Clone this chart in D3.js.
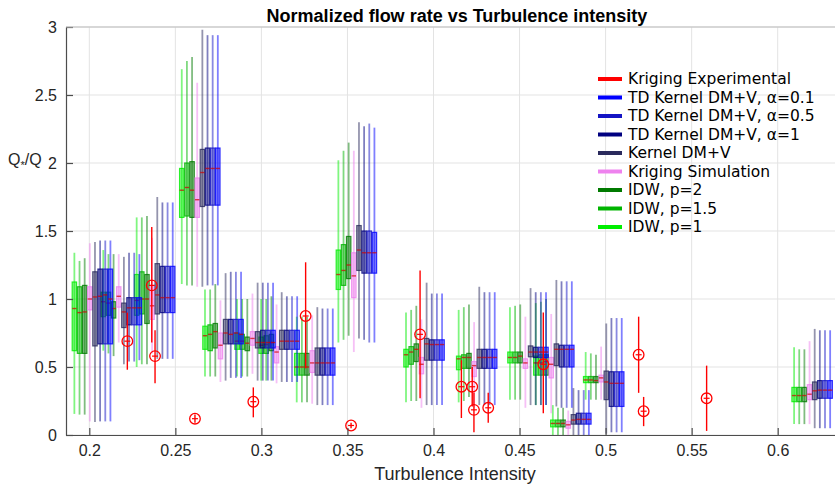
<!DOCTYPE html>
<html><head><meta charset="utf-8">
<script src="https://cdn.jsdelivr.net/npm/d3@7/dist/d3.min.js"></script>
<style>body{margin:0;background:#fff;} svg{display:block;}</style>
</head><body><svg id="c" width="835" height="489"></svg>
<script>
// ---------------- data ----------------
const xTicks = [0.2, 0.25, 0.3, 0.35, 0.4, 0.45, 0.5, 0.55, 0.6];
const yTicks = [0, 0.5, 1, 1.5, 2, 2.5, 3];
const xTickLabels = ["0.2", "0.25", "0.3", "0.35", "0.4", "0.45", "0.5", "0.55", "0.6"];
const yTickLabels = ["0", "0.5", "1", "1.5", "2", "2.5", "3"];

// turbulence intensity (centre of each group of boxes)
const clusterTI = [0.2018, 0.2186, 0.2380, 0.2642, 0.2777, 0.2963, 0.3103, 0.3310,
                   0.3552, 0.3945, 0.4251, 0.4549, 0.4699, 0.4798, 0.4989, 0.6200];

// each entry: [min, q1, median, q3, max]
const idwP1 = [
  [0.155,0.62,0.93,1.125,1.34],[0.62,0.87,0.98,1.05,1.36],[0.50,0.88,0.99,1.18,1.60],[1.11,1.60,1.80,1.96,2.69],
  [0.43,0.63,0.73,0.80,1.07],[0.43,0.63,0.69,0.75,1.00],[0.40,0.60,0.66,0.72,1.00],[0.24,0.44,0.50,0.60,0.87],
  [0.68,1.07,1.18,1.36,2.02],[0.24,0.50,0.59,0.63,0.90],[0.24,0.48,0.56,0.58,0.92],[0.26,0.53,0.57,0.61,0.94],
  [0.22,0.44,0.53,0.58,0.97],[0.00,0.06,0.085,0.11,0.22],[0.26,0.385,0.405,0.43,0.61],[0.08,0.245,0.29,0.35,0.645]];
const idwP15 = [
  [0.15,0.60,0.90,1.09,1.28],[0.60,0.88,0.97,1.05,1.33],[0.52,0.89,1.00,1.20,1.60],[1.10,1.61,1.82,2.00,2.75],
  [0.43,0.62,0.74,0.81,1.07],[0.43,0.63,0.69,0.74,1.00],[0.40,0.60,0.665,0.73,1.00],[0.24,0.44,0.50,0.60,0.87],
  [0.70,1.10,1.21,1.40,2.09],[0.25,0.52,0.61,0.65,0.92],[0.25,0.49,0.57,0.59,0.94],[0.26,0.53,0.57,0.61,0.95],
  [0.22,0.44,0.53,0.59,0.98],[0.00,0.06,0.085,0.11,0.20],[0.26,0.385,0.405,0.43,0.60],[0.08,0.245,0.29,0.35,0.63]];
const idwP2 = [
  [0.15,0.60,0.905,1.10,1.30],[0.58,0.86,0.93,0.98,1.33],[0.52,0.82,1.00,1.18,1.61],[1.10,1.60,1.80,2.01,2.78],
  [0.43,0.64,0.76,0.82,1.11],[0.43,0.62,0.675,0.72,1.00],[0.40,0.62,0.68,0.74,1.02],[0.24,0.44,0.50,0.60,0.87],
  [0.73,1.15,1.25,1.46,2.15],[0.25,0.54,0.63,0.67,0.95],[0.28,0.49,0.57,0.60,0.96],[0.26,0.53,0.58,0.61,0.96],
  [0.22,0.44,0.54,0.59,1.00],[0.00,0.06,0.085,0.11,0.20],[0.26,0.385,0.40,0.43,0.59],[0.08,0.245,0.29,0.35,0.63]];
const krigSim = [
  [0.10,0.92,1.00,1.09,1.41],[0.68,0.94,1.02,1.09,1.33],[0.60,0.85,0.95,1.10,1.45],[1.09,1.60,1.73,1.89,2.59],
  [0.39,0.56,0.66,0.75,0.99],[0.45,0.66,0.71,0.76,1.04],[0.38,0.53,0.61,0.65,0.96],[0.23,0.46,0.53,0.62,0.88],
  [0.61,1.01,1.17,1.34,2.09],[0.20,0.45,0.52,0.57,0.85],[0.20,0.43,0.51,0.54,0.83],[0.20,0.49,0.53,0.56,0.87],
  [0.16,0.42,0.52,0.57,0.89],[0.00,0.05,0.075,0.10,0.18],[0.26,0.39,0.42,0.44,0.65],[0.08,0.26,0.30,0.37,0.69]];
const kernelDMV = [
  [0.095,0.655,1.015,1.20,1.42],[0.52,0.79,0.905,0.97,1.31],[0.56,0.89,1.03,1.26,1.75],[1.09,1.68,1.93,2.10,2.98],
  [0.40,0.67,0.75,0.85,1.19],[0.40,0.64,0.68,0.76,1.12],[0.39,0.63,0.69,0.77,1.05],[0.22,0.44,0.53,0.64,0.94],
  [0.71,1.21,1.36,1.54,2.30],[0.22,0.55,0.67,0.71,1.12],[0.22,0.49,0.57,0.63,1.09],[0.22,0.575,0.61,0.655,1.08],
  [0.21,0.51,0.63,0.67,1.14],[0.00,0.08,0.11,0.15,0.345],[0.01,0.26,0.39,0.47,0.82],[0.05,0.26,0.325,0.39,0.78]];
const tdAlpha1 = [
  [0.10,0.67,1.02,1.22,1.43],[0.54,0.81,0.935,1.01,1.34],[0.56,0.90,1.01,1.24,1.71],[1.10,1.69,1.96,2.11,2.94],
  [0.42,0.67,0.74,0.85,1.20],[0.40,0.64,0.68,0.77,1.12],[0.39,0.63,0.69,0.77,1.02],[0.22,0.44,0.53,0.64,0.93],
  [0.70,1.19,1.34,1.50,2.27],[0.22,0.55,0.665,0.70,1.04],[0.22,0.49,0.57,0.63,1.05],[0.22,0.57,0.61,0.645,1.05],
  [0.20,0.50,0.63,0.66,1.13],[0.00,0.08,0.115,0.16,0.33],[0.02,0.21,0.38,0.465,0.86],[0.05,0.27,0.33,0.40,0.77]];
const tdAlpha05 = [
  [0.10,0.67,1.03,1.22,1.43],[0.54,0.81,0.935,1.01,1.34],[0.56,0.90,1.01,1.24,1.71],[1.10,1.69,1.96,2.11,2.94],
  [0.42,0.67,0.75,0.85,1.20],[0.40,0.64,0.68,0.77,1.12],[0.39,0.63,0.69,0.77,1.02],[0.22,0.44,0.53,0.64,0.93],
  [0.68,1.19,1.34,1.50,2.29],[0.22,0.55,0.665,0.70,1.04],[0.22,0.49,0.57,0.63,1.05],[0.22,0.57,0.61,0.645,1.05],
  [0.20,0.50,0.63,0.66,1.13],[0.00,0.08,0.115,0.16,0.33],[0.02,0.21,0.38,0.465,0.86],[0.05,0.27,0.33,0.40,0.77]];
const tdAlpha01 = [
  [0.10,0.67,1.00,1.22,1.43],[0.55,0.81,0.935,1.01,1.33],[0.56,0.90,1.01,1.24,1.71],[1.10,1.69,1.96,2.11,2.94],
  [0.42,0.67,0.74,0.85,1.20],[0.40,0.64,0.68,0.77,1.12],[0.39,0.63,0.69,0.77,1.02],[0.22,0.44,0.53,0.64,0.93],
  [0.68,1.19,1.34,1.49,2.26],[0.22,0.55,0.665,0.70,1.04],[0.22,0.49,0.57,0.63,1.05],[0.22,0.57,0.61,0.645,1.05],
  [0.20,0.50,0.63,0.66,1.13],[0.00,0.08,0.115,0.16,0.33],[0.02,0.21,0.38,0.465,0.86],[0.05,0.27,0.33,0.40,0.77]];

// Kriging experimental points with error bars
const krigExpTI = [0.2221,0.2363,0.2382,0.2614,0.2953,0.3257,0.3521,0.3922,0.4162,0.4225,0.4235,0.4318,0.4638,0.5192,0.5221,0.5587];
const krigExpQ  = [0.69,1.10,0.58,0.12,0.245,0.875,0.07,0.74,0.355,0.355,0.185,0.20,0.52,0.59,0.175,0.27];
const krigExpLo = [0.48,0.68,0.38,0.09,0.13,0.49,0.05,0.27,0.125,0.21,0.02,0.09,0.16,0.31,0.065,0.03];
const krigExpHi = [0.90,1.53,0.77,0.15,0.35,1.27,0.09,1.21,0.55,0.50,0.31,0.31,0.90,0.87,0.28,0.51];

const boxSeries = [
  {name:"IDW, p=1",             data:idwP1,     color:"#00ee00"},
  {name:"IDW, p=1.5",           data:idwP15,    color:"#00b400"},
  {name:"IDW, p=2",             data:idwP2,     color:"#007a00"},
  {name:"Kriging Simulation",   data:krigSim,   color:"#ee82ee"},
  {name:"Kernel DM+V",          data:kernelDMV, color:"#2a2a5c"},
  {name:"TD Kernel DM+V, α=1",  data:tdAlpha1,  color:"#000080"},
  {name:"TD Kernel DM+V, α=0.5",data:tdAlpha05, color:"#1414c4"},
  {name:"TD Kernel DM+V, α=0.1",data:tdAlpha01, color:"#0000ff"}
];
const legendItems = [
  {name:"Kriging Experimental",  color:"#ff0000"},
  {name:"TD Kernel DM+V, α=0.1", color:"#0000ff"},
  {name:"TD Kernel DM+V, α=0.5", color:"#1414c4"},
  {name:"TD Kernel DM+V, α=1",   color:"#000080"},
  {name:"Kernel DM+V",           color:"#2a2a5c"},
  {name:"Kriging Simulation",    color:"#ee82ee"},
  {name:"IDW, p=2",              color:"#007a00"},
  {name:"IDW, p=1.5",            color:"#00b400"},
  {name:"IDW, p=1",              color:"#00ee00"}
];

// ---------------- layout / style ----------------
const plotL = 66, plotT = 27, plotB = 435, plotR = 860;
const boxStep = 5.15, boxW = 4.4;
const legendTop = 79, legendStep = 18.5;

const svg = d3.select("#c");
const x = d3.scaleLinear().domain([0.2, 0.6]).range([89.3, 777.7]);
const y = d3.scaleLinear().domain([0, 3]).range([plotB, plotT]);

// grid
const grid = svg.append("g");
grid.selectAll("line.gx").data(xTicks).enter().append("line")
  .attr("x1", d => x(d)).attr("x2", d => x(d)).attr("y1", plotT).attr("y2", plotB)
  .attr("stroke", "#e3e3e3").attr("stroke-width", 1);
grid.selectAll("line.gy").data(yTicks).enter().append("line")
  .attr("x1", plotL).attr("x2", plotR).attr("y1", d => y(d)).attr("y2", d => y(d))
  .attr("stroke", "#e3e3e3").attr("stroke-width", 1);

// clip
svg.append("defs").append("clipPath").attr("id", "clip")
  .append("rect").attr("x", plotL).attr("y", plotT).attr("width", plotR - plotL).attr("height", plotB - plotT);
const plot = svg.append("g").attr("clip-path", "url(#clip)");

// boxes
boxSeries.forEach((s, k) => {
  const off = (k - 3.5) * boxStep;
  const g = plot.append("g");
  s.data.forEach((b, i) => {
    const cx = x(clusterTI[i]) + off;
    g.append("line").attr("x1", cx).attr("x2", cx).attr("y1", y(b[0])).attr("y2", y(b[4]))
      .attr("stroke", s.color).attr("stroke-opacity", 0.5).attr("stroke-width", 1.8);
    g.append("rect").attr("x", cx - boxW / 2).attr("width", boxW)
      .attr("y", y(b[3])).attr("height", Math.max(1, y(b[1]) - y(b[3])))
      .attr("fill", s.color).attr("fill-opacity", 0.45)
      .attr("stroke", s.color).attr("stroke-opacity", 0.8).attr("stroke-width", 1.2);
    g.append("line").attr("x1", cx - boxW / 2).attr("x2", cx + boxW / 2)
      .attr("y1", y(b[2])).attr("y2", y(b[2]))
      .attr("stroke", "#d00000").attr("stroke-opacity", 0.7).attr("stroke-width", 1.4);
  });
});

// Kriging experimental
const red = plot.append("g");
krigExpTI.forEach((t, i) => {
  const cx = x(t), cy = y(krigExpQ[i]);
  red.append("line").attr("x1", cx).attr("x2", cx).attr("y1", y(krigExpLo[i])).attr("y2", y(krigExpHi[i]))
    .attr("stroke", "#ff0000").attr("stroke-width", 1.4);
  red.append("circle").attr("cx", cx).attr("cy", cy).attr("r", 5.3)
    .attr("fill", "none").attr("stroke", "#ff0000").attr("stroke-width", 1.3);
  red.append("line").attr("x1", cx - 3).attr("x2", cx + 3).attr("y1", cy).attr("y2", cy)
    .attr("stroke", "#ff0000").attr("stroke-width", 1.2);
});

// axes
const fontTick = "'Liberation Sans', Arial, Helvetica, sans-serif";
const xAxis = d3.axisBottom(x).tickValues(xTicks).tickFormat((d, i) => xTickLabels[i])
  .tickSizeInner(-7).tickSizeOuter(0).tickPadding(10);
const gx = svg.append("g").attr("transform", `translate(0,${plotB})`).call(xAxis);
gx.select(".domain").attr("d", `M${plotL},0.5H${plotR}`);
const yAxis = d3.axisLeft(y).tickValues(yTicks).tickFormat((d, i) => yTickLabels[i])
  .tickSizeInner(-7).tickSizeOuter(0).tickPadding(9);
const gy = svg.append("g").attr("transform", `translate(${plotL},0)`).call(yAxis);
[gx, gy].forEach(g => {
  g.select(".domain").attr("stroke", "#4d4d4d").attr("stroke-width", 1.2);
  g.selectAll(".tick line").attr("stroke", "#4d4d4d").attr("stroke-width", 1.2);
  g.selectAll(".tick text").attr("fill", "#262626").style("font-family", fontTick).style("font-size", "16px");
});
// top border
svg.append("line").attr("x1", plotL).attr("x2", plotR).attr("y1", plotT).attr("y2", plotT)
  .attr("stroke", "#bdbdbd").attr("stroke-width", 1);

// title and labels
svg.append("text").attr("x", 457).attr("y", 22).attr("text-anchor", "middle")
  .style("font-family", fontTick).style("font-size", "18px").style("font-weight", "bold")
  .attr("fill", "#000").text("Normalized flow rate vs Turbulence intensity");
svg.append("text").attr("x", 455).attr("y", 480).attr("text-anchor", "middle")
  .style("font-family", fontTick).style("font-size", "18px").attr("fill", "#262626")
  .text("Turbulence Intensity");
const yl = svg.append("text").attr("x", 8).attr("y", 165)
  .style("font-family", fontTick).style("font-size", "16px").attr("fill", "#262626");
yl.append("tspan").text("Q");
yl.append("tspan").attr("dy", 4).style("font-size", "11px").text("*");
yl.append("tspan").attr("dy", -4).text("/Q");

// legend
const lg = svg.append("g");
legendItems.forEach((it, i) => {
  const ly = legendTop + i * legendStep;
  lg.append("line").attr("x1", 598).attr("x2", 622).attr("y1", ly).attr("y2", ly)
    .attr("stroke", it.color).attr("stroke-width", 4);
  lg.append("text").attr("x", 628).attr("y", ly).attr("dy", "0.33em")
    .style("font-family", "'DejaVu Sans', Verdana, sans-serif").style("font-size", "15.5px")
    .attr("fill", "#000").text(it.name);
});
</script></body></html>
